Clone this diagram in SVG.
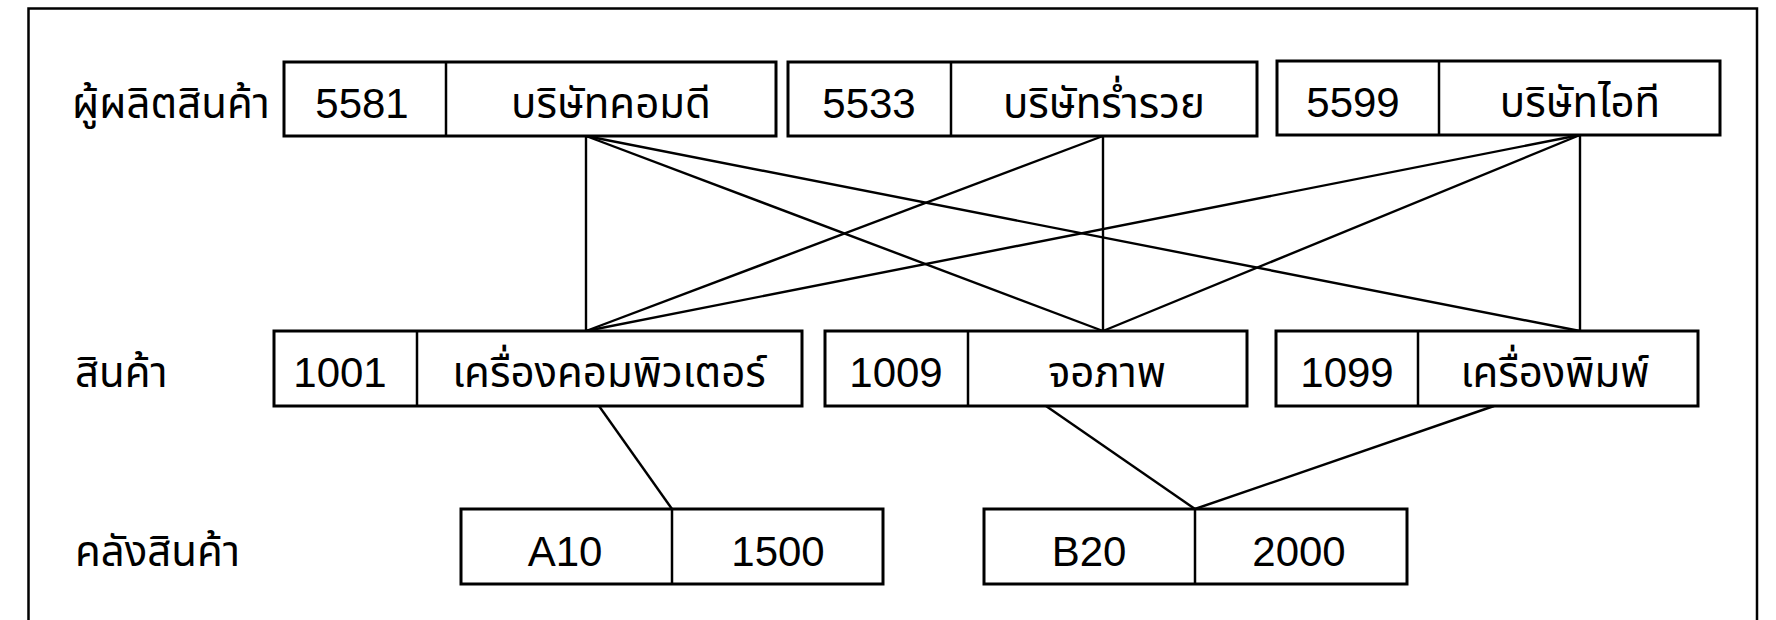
<svg xmlns="http://www.w3.org/2000/svg" width="1776" height="620" viewBox="0 0 1776 620">
  <style>
    .frame { fill: none; stroke: #000; stroke-width: 2.5; }
    .box { fill: #fff; stroke: #000; stroke-width: 3; }
    .div { stroke: #000; stroke-width: 2.5; }
    .link { stroke: #000; stroke-width: 2.4; fill: none; }
    text { font-size: 42px; fill: #000; }
    .num { font-family: "Liberation Sans", Arial, sans-serif; text-anchor: middle; }
    .th { font-family: "Noto Sans Thai", "Noto Sans Thai UI", "Tahoma", "Leelawadee UI", "Garuda", "Loma", "Sarabun", "DejaVu Sans", sans-serif; }
    .mid { text-anchor: middle; }
  </style>

  <rect width="1776" height="620" fill="#fff"/>

  <!-- page border, open at the bottom -->
  <path class="frame" d="M28.5,630 V8.5 H1757 V630"/>

  <!-- row labels -->
  <text class="th" x="72" y="118">ผู้ผลิตสินค้า</text>
  <text class="th" x="75" y="387">สินค้า</text>
  <text class="th" x="75" y="566">คลังสินค้า</text>

  <!-- connectors -->
  <g id="connectors">
    <line class="link" x1="586" y1="136" x2="586" y2="331"/>
    <line class="link" x1="586" y1="136" x2="1103" y2="331"/>
    <line class="link" x1="586" y1="136" x2="1580" y2="331"/>
    <line class="link" x1="1103" y1="136" x2="586" y2="331"/>
    <line class="link" x1="1103" y1="136" x2="1103" y2="331"/>
    <line class="link" x1="1580" y1="135" x2="586" y2="331"/>
    <line class="link" x1="1580" y1="135" x2="1103" y2="331"/>
    <line class="link" x1="1580" y1="135" x2="1580" y2="331"/>
    <line class="link" x1="599" y1="406" x2="672" y2="509"/>
    <line class="link" x1="1046" y1="406" x2="1195" y2="509"/>
    <line class="link" x1="1494" y1="406" x2="1195" y2="509"/>
  </g>

  <!-- manufacturers -->
  <g id="maker-5581">
    <rect class="box" x="284" y="62" width="492" height="74"/>
    <line class="div" x1="446" y1="62" x2="446" y2="136"/>
    <text class="num" x="362" y="118">5581</text>
    <text class="th mid" x="611" y="118">บริษัทคอมดี</text>
  </g>
  <g id="maker-5533">
    <rect class="box" x="788" y="62" width="469" height="74"/>
    <line class="div" x1="951" y1="62" x2="951" y2="136"/>
    <text class="num" x="869" y="118">5533</text>
    <text class="th mid" x="1104" y="118">บริษัทร่ำรวย</text>
  </g>
  <g id="maker-5599">
    <rect class="box" x="1277" y="61" width="443" height="74"/>
    <line class="div" x1="1439" y1="61" x2="1439" y2="135"/>
    <text class="num" x="1353" y="117">5599</text>
    <text class="th mid" x="1580" y="117">บริษัทไอที</text>
  </g>

  <!-- products -->
  <g id="product-1001">
    <rect class="box" x="274" y="331" width="528" height="75"/>
    <line class="div" x1="417" y1="331" x2="417" y2="406"/>
    <text class="num" x="340" y="387">1001</text>
    <text class="th mid" x="609" y="387">เครื่องคอมพิวเตอร์</text>
  </g>
  <g id="product-1009">
    <rect class="box" x="825" y="331" width="422" height="75"/>
    <line class="div" x1="968" y1="331" x2="968" y2="406"/>
    <text class="num" x="896" y="387">1009</text>
    <text class="th mid" x="1107" y="387">จอภาพ</text>
  </g>
  <g id="product-1099">
    <rect class="box" x="1276" y="331" width="422" height="75"/>
    <line class="div" x1="1418" y1="331" x2="1418" y2="406"/>
    <text class="num" x="1347" y="387">1099</text>
    <text class="th mid" x="1555" y="387">เครื่องพิมพ์</text>
  </g>

  <!-- warehouses -->
  <g id="store-a10">
    <rect class="box" x="461" y="509" width="422" height="75"/>
    <line class="div" x1="672" y1="509" x2="672" y2="584"/>
    <text class="num" x="565" y="566">A10</text>
    <text class="num" x="778" y="566">1500</text>
  </g>
  <g id="store-b20">
    <rect class="box" x="984" y="509" width="423" height="75"/>
    <line class="div" x1="1195" y1="509" x2="1195" y2="584"/>
    <text class="num" x="1089" y="566">B20</text>
    <text class="num" x="1299" y="566">2000</text>
  </g>
</svg>
